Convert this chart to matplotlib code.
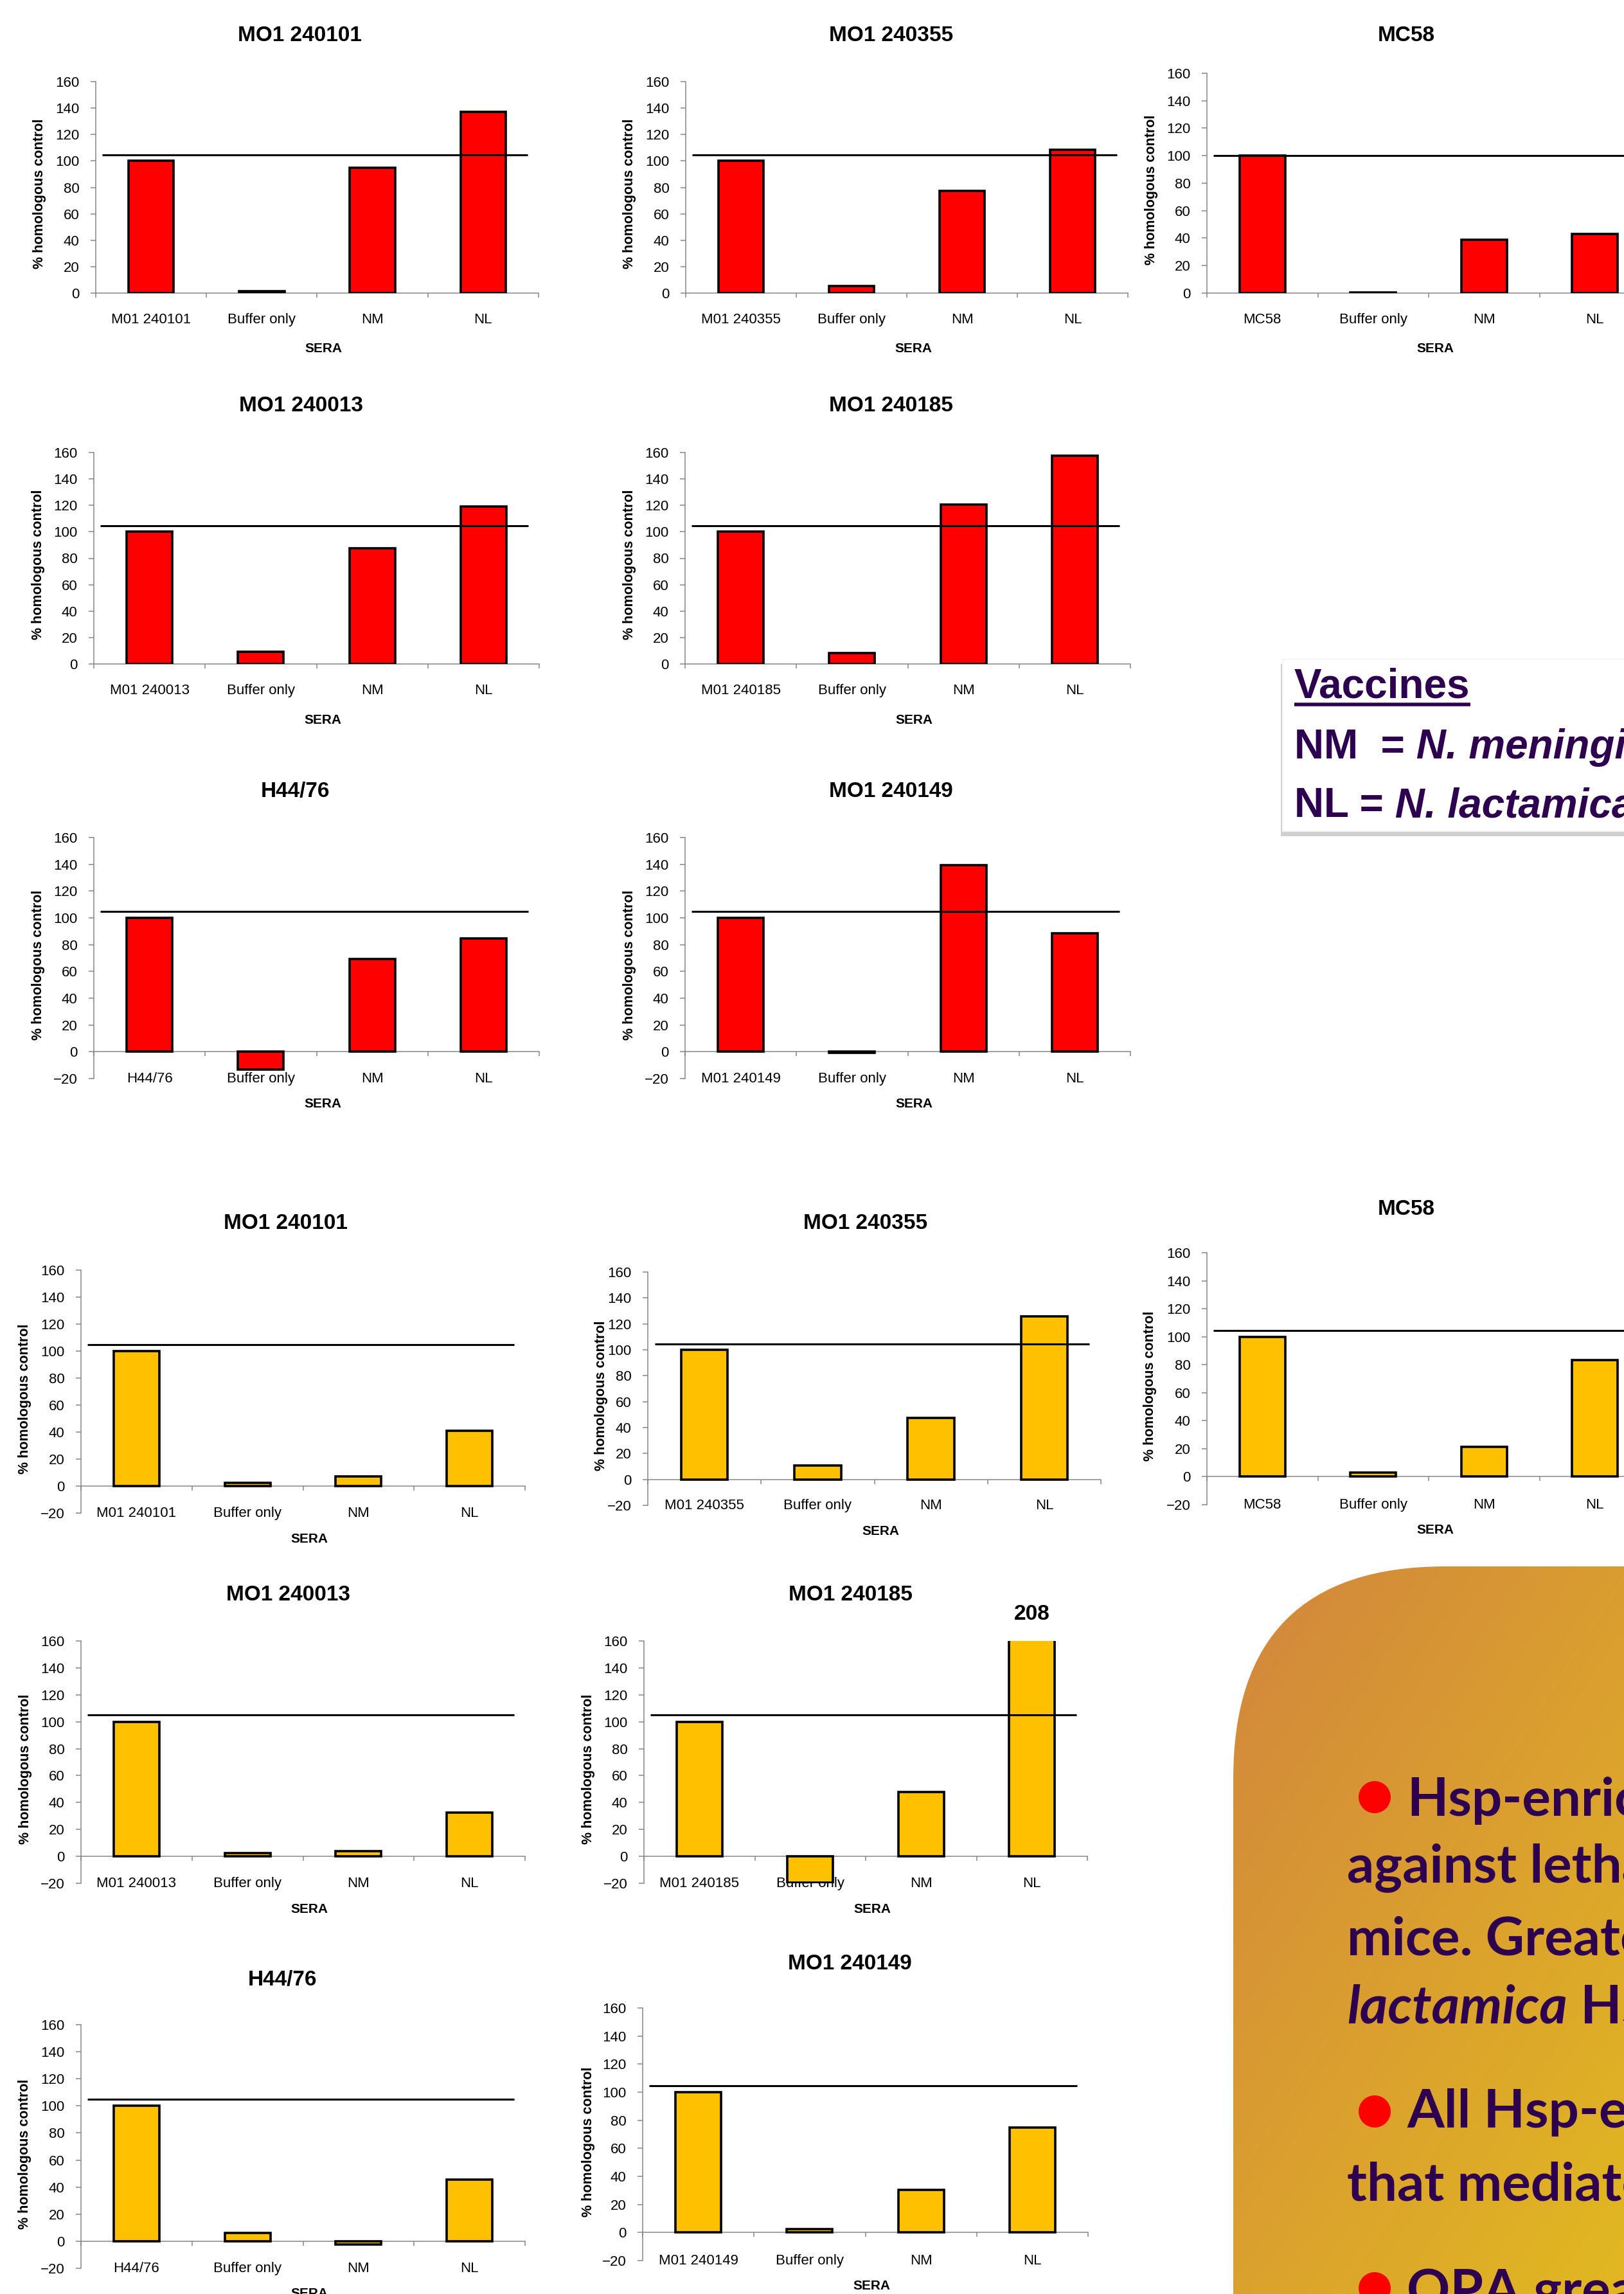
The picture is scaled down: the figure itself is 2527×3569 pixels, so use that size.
import matplotlib
matplotlib.use("Agg")
import matplotlib.pyplot as plt
import numpy as np
from matplotlib import font_manager
from matplotlib.patches import FancyBboxPatch, Circle, Rectangle
from matplotlib.transforms import offset_copy

W, H = 2527, 3569

# ---- data ----
sera = ["Buffer only", "NM", "NL"]

red_titles = ["MO1 240101", "MO1 240355", "MC58", "MO1 240013", "MO1 240185", "H44/76", "MO1 240149"]
red_strains = ["M01 240101", "M01 240355", "MC58", "M01 240013", "M01 240185", "H44/76", "M01 240149"]
red_values = [
    [100, 1.5, 95, 137],
    [100, 5.5, 77.5, 108.5],
    [100, 0.6, 39, 43],
    [100, 9, 87.5, 119],
    [100, 8.5, 120.5, 157.5],
    [100, -13.5, 69.5, 84.5],
    [100, -0.7, 139.5, 88.5],
]
red_cutoff = [104.5, 104.5, 100, 104.5, 104.5, 105, 105]

orange_titles = ["MO1 240101", "MO1 240355", "MC58", "MO1 240013", "MO1 240185", "H44/76", "MO1 240149"]
orange_strains = ["M01 240101", "M01 240355", "MC58", "M01 240013", "M01 240185", "H44/76", "M01 240149"]
orange_values = [
    [100, 2.5, 7, 41],
    [100, 10.5, 47.5, 126],
    [100, 3, 21.5, 83.5],
    [100, 2.5, 4, 32.5],
    [100, -19.5, 48, 208],
    [100, 6, -2.5, 45.5],
    [100, 2.5, 30.5, 75],
]
orange_cutoff = [105, 104.7, 104.6, 105, 105, 104.7, 104.4]

# ---- layout (pixels): left, right, y of 160, y of axis minimum ----
red_boxes = [(149, 838, 127, 456), (1067, 1755, 127, 456), (1878, 2568, 114, 456),
             (146, 839, 704, 1033), (1066, 1759, 704, 1033),
             (146, 839, 1303, 1678), (1066, 1759, 1303, 1678)]
red_ymin = [0, 0, 0, 0, 0, -20, -20]
red_title_xy = [(466, 55), (1387, 55), (2188, 55), (469, 632), (1386, 632), (460, 1231), (1386, 1231)]

orange_boxes = [(126, 817, 1976, 2354), (1008, 1713, 1979, 2342), (1878, 2568, 1949, 2341),
                (126, 817, 2553, 2930), (1002, 1692, 2553, 2930),
                (126, 817, 3150, 3529), (1000, 1693, 3124, 3517)]
orange_ymin = [-20] * 7
orange_title_xy = [(444, 1904), (1347, 1904), (2188, 1881), (448, 2481), (1323, 2481), (439, 3081), (1322, 3056)]
orange_ylab_dx = [87, 73, 88, 86, 86, 87, 85]

names = {f.name for f in font_manager.fontManager.ttflist}
sans = "Liberation Sans" if "Liberation Sans" in names else "DejaVu Sans"
box_font = "Lato" if "Lato" in names else sans
plt.rcParams["font.family"] = [sans, "DejaVu Sans"]

grey = "#868686"
purple = "#2E0050"

fig = plt.figure(figsize=(W / 100, H / 100), dpi=100)
fig.patch.set_facecolor("white")


def panel(box, ymin, vals, cutoff, strain, color, title, title_xy, ylab_dx=87):
    l, r, t, b = box
    ax = fig.add_axes([l / W, 1 - b / H, (r - l) / W, (b - t) / H])
    x = np.arange(len(vals))
    ax.bar(x, vals, width=0.41, color=color, edgecolor="black", linewidth=2.6, zorder=3)
    ax.hlines(cutoff, -0.44, 3.4, colors="black", linewidth=2.2, zorder=4)
    ax.set_xlim(-0.5, 3.5)
    ax.set_ylim(ymin, 160)
    ax.set_facecolor("none")

    for s in ["top", "right"]:
        ax.spines[s].set_visible(False)
    ax.spines["left"].set_color(grey)
    ax.spines["left"].set_linewidth(1.1)
    ax.spines["bottom"].set_color(grey)
    ax.spines["bottom"].set_linewidth(1.1)
    ax.spines["bottom"].set_position(("data", 0))

    ax.set_yticks(np.arange(ymin, 161, 20))
    ax.tick_params(axis="y", direction="out", length=5.5, width=1.1, color=grey, labelsize=16, pad=13)
    ax.set_xticks(np.arange(-0.5, 4, 1))
    ax.tick_params(axis="x", direction="out", length=5, width=1.1, color=grey, labelbottom=False)

    # category labels sit at the bottom of the plot area
    sec = ax.secondary_xaxis("bottom")
    sec.set_xticks(x, [strain] + sera)
    sec.spines["bottom"].set_visible(False)
    pad_px = 31 if ymin == 0 else -10
    sec.tick_params(length=0, labelsize=16, pad=pad_px * 0.72)

    sera_dy = 87 if ymin == 0 else 40
    ax.text(0.5, 0, "SERA", transform=offset_copy(ax.transAxes, fig=fig, x=10, y=-sera_dy, units="dots"),
            ha="center", va="center", fontsize=15, fontweight="bold")

    ax.set_ylabel("% homologous control", fontsize=15.5, fontweight="bold", va="center")
    ax.yaxis.set_label_coords(-ylab_dx / (r - l), 0.47)

    for i, v in enumerate(vals):
        if v > 160:
            ax.annotate(f"{v:g}", xy=(i, 160), xytext=(0, 42), textcoords="offset pixels",
                        ha="center", va="center", fontsize=24, fontweight="bold", annotation_clip=False)

    fig.text(title_xy[0] / W, 1 - title_xy[1] / H, title, ha="center", va="center",
             fontsize=24, fontweight="bold")


for k in range(len(red_titles)):
    panel(red_boxes[k], red_ymin[k], red_values[k], red_cutoff[k], red_strains[k],
          "#FF0000", red_titles[k], red_title_xy[k])

for k in range(len(orange_titles)):
    panel(orange_boxes[k], orange_ymin[k], orange_values[k], orange_cutoff[k], orange_strains[k],
          "#FFC000", orange_titles[k], orange_title_xy[k], orange_ylab_dx[k])

# ---- overlay in pixel coordinates for the text boxes ----
ov = fig.add_axes([0, 0, 1, 1])
ov.set_xlim(0, W)
ov.set_ylim(H, 0)
ov.axis("off")
renderer = fig.canvas.get_renderer()


def put_parts(x, y, parts, **kw):
    for s, style in parts:
        t = ov.text(x, y, s, fontstyle=style, va="baseline", ha="left", clip_on=True, **kw)
        x += t.get_window_extent(renderer=renderer).width
    return x


# vaccines key
vx0, vy0, vy1 = 1995, 1025, 1293
ov.add_patch(Rectangle((vx0 - 2, vy0 + 8), 1000, vy1 - vy0, fc="#8a8a8a", ec="none", alpha=0.4))
ov.add_patch(Rectangle((vx0, vy0), 1000, vy1 - vy0, fc="white", ec="#f2f2f2", lw=1))
vkw = dict(fontsize=46, fontweight="bold", color=purple, family=[sans, "DejaVu Sans"])
x_end = put_parts(vx0 + 19, 1086, [("Vaccines", "normal")], **vkw)
ov.hlines(1096, vx0 + 19, x_end, colors=purple, linewidth=4)
put_parts(vx0 + 19, 1180, [("NM  =", "normal"), (" N. meningitidis", "italic")], **vkw)
put_parts(vx0 + 19, 1271, [("NL =", "normal"), (" N. lactamica", "italic")], **vkw)

# conclusions box with diagonal gradient and rounded corner
bx0, by0 = 1919, 2437
shape = FancyBboxPatch((bx0, by0), 1400, 1600, boxstyle="round,pad=0,rounding_size=330",
                       fc="none", ec="none")
ov.add_patch(shape)
gy, gx = np.mgrid[0:1:300j, 0:1:300j]
tt = np.clip(0.5 * gx + 0.6 * gy - 0.05, 0, 1)[..., None]
c0 = np.array([211, 136, 60]) / 255
c1 = np.array([225, 182, 34]) / 255
grad = c0 * (1 - tt) + c1 * tt
img = ov.imshow(grad, extent=(bx0, W, H, by0), origin="upper", aspect="auto", interpolation="bilinear", zorder=1)
img.set_clip_path(shape)
ov.set_xlim(0, W)
ov.set_ylim(H, 0)

bkw = dict(fontsize=60, fontweight="bold", color=purple, family=[box_font, "DejaVu Sans"], zorder=3)
for cy in [2796, 3285, 3560]:
    ov.add_patch(Circle((2139, cy), 25, fc="#FF0000", ec="none", zorder=3))
put_parts(2189, 2825, [("Hsp-enriched", "normal")], **bkw)
put_parts(2096, 2928, [("against lethal", "normal")], **bkw)
put_parts(2096, 3041, [("mice. Greater", "normal")], **bkw)
put_parts(2096, 3148, [("lactamica", "italic"), (" Hsp", "normal")], **bkw)
put_parts(2189, 3310, [("All Hsp-enriched", "normal")], **bkw)
put_parts(2096, 3424, [("that mediate", "normal")], **bkw)
put_parts(2189, 3590, [("OPA greater", "normal")], **bkw)

fig.savefig("out.png", dpi=100)
